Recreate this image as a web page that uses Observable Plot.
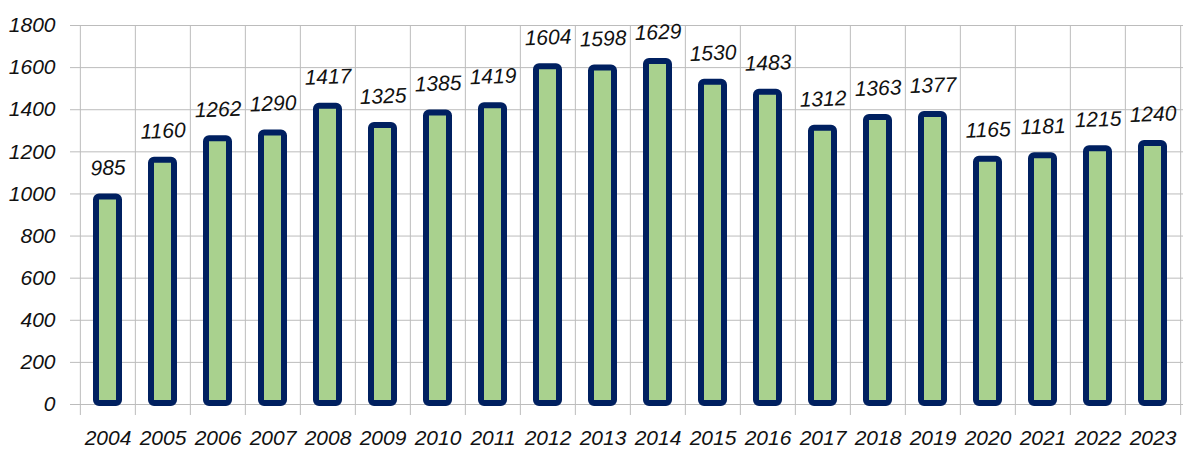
<!DOCTYPE html>
<html>
<head>
<meta charset="utf-8">
<script src="https://cdn.jsdelivr.net/npm/d3@7"></script>
<script src="https://cdn.jsdelivr.net/npm/@observablehq/plot@0.6"></script>
<style>
  html, body { margin: 0; padding: 0; background: #fff; }
</style>
</head>
<body>
<div id="chart"></div>
<script>
const years = ["2004","2005","2006","2007","2008","2009","2010","2011","2012","2013","2014","2015","2016","2017","2018","2019","2020","2021","2022","2023"];
const values = [985,1160,1262,1290,1417,1325,1385,1419,1604,1598,1629,1530,1483,1312,1363,1377,1165,1181,1215,1240];
const yTicks = [0,200,400,600,800,1000,1200,1400,1600,1800];

const data = years.map((y, i) => ({year: y, value: values[i]}));

const W = 1184, H = 450, mL = 77, mR = 1, mT = 25, mB = 46;
const step = (W - mL - mR) / years.length;
const grid = "#bcbcbc";
const font = "'Liberation Sans', Arial, sans-serif";

const chart = Plot.plot({
  width: W,
  height: H,
  marginLeft: mL,
  marginRight: mR,
  marginTop: mT,
  marginBottom: mB,
  style: {fontFamily: font, fontStyle: "italic", fontSize: "21px", color: "#111", background: "#fff"},
  x: {domain: years, paddingInner: 0.59, paddingOuter: 0.295, axis: null},
  y: {domain: [0, 1800], axis: null},
  marks: [
    Plot.ruleY(yTicks, {y: d => d, stroke: grid, strokeWidth: 1, insetLeft: -7}),
    Plot.ruleX(years, {x: d => d, dx: -step / 2, stroke: grid, strokeWidth: 1, insetBottom: -11}),
    Plot.ruleX([years[years.length - 1]], {x: d => d, dx: step / 2, stroke: grid, strokeWidth: 1, insetBottom: -11}),
    Plot.barY(data, {x: "year", y: "value", fill: "#a9d18e", stroke: "#002060", strokeWidth: 6, rx: 3, insetBottom: 1}),
    Plot.text(data, {x: "year", y: "value", text: d => String(d.value), dy: -29, rotate: -2, fontSize: 21, fontStyle: "italic", fill: "#111"}),
    Plot.axisY({ticks: yTicks, tickSize: 0, tickPadding: 22, tickFormat: d => String(d), fontSize: 21, fill: "#111", label: null}),
    Plot.axisX({tickSize: 0, tickPadding: 26, fontSize: 21, fill: "#111", label: null})
  ]
});
document.getElementById("chart").appendChild(chart);
</script>
</body>
</html>
